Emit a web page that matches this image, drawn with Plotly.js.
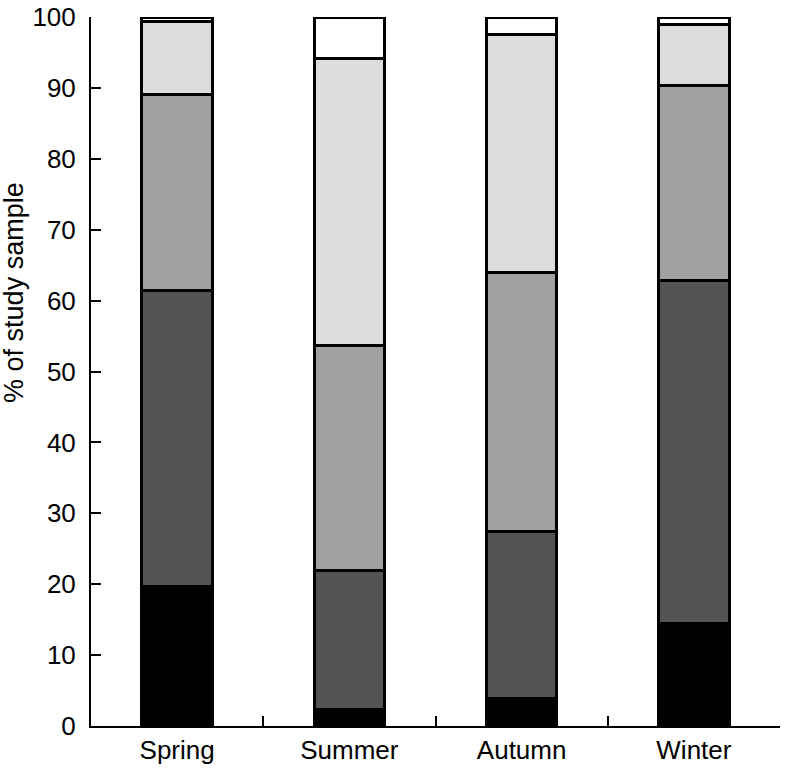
<!DOCTYPE html>
<html>
<head>
<meta charset="utf-8">
<script src="https://cdn.plot.ly/plotly-3.0.1.min.js"></script>
<style>
  html, body { margin: 0; padding: 0; background: #fff; }
  #chart { width: 787px; height: 771px; }
</style>
</head>
<body>
<div id="chart"></div>
<script>
var seasons = ['Spring', 'Summer', 'Autumn', 'Winter'];

// stacked segments, bottom to top (% of study sample)
var seg1 = [19.7, 2.3, 3.9, 14.5];
var seg2 = [41.7, 19.6, 23.5, 48.3];
var seg3 = [27.7, 31.7, 36.6, 27.6];
var seg4 = [10.2, 40.6, 33.5, 8.5];
var seg5 = [0.7, 5.8, 2.5, 1.1];

var fills = ['#000000', '#545454', '#a1a1a1', '#dcdcdc', '#ffffff'];
var segs = [seg1, seg2, seg3, seg4, seg5];

var traces = [];
for (var i = 0; i < segs.length; i++) {
    traces.push({
        type: 'bar',
        x: seasons,
        y: segs[i],
        width: 0.41,
        marker: {
            color: fills[i],
            line: {color: '#000000', width: 3}
        },
        hoverinfo: 'skip'
    });
}

var layout = {
    width: 787,
    height: 771,
    barmode: 'stack',
    showlegend: false,
    paper_bgcolor: '#ffffff',
    plot_bgcolor: '#ffffff',
    margin: {l: 91, r: 7, t: 17, b: 45},
    font: {family: 'Liberation Sans, Arial, sans-serif', size: 26, color: '#000'},
    xaxis: {
        type: 'category',
        tickson: 'boundaries',
        ticks: 'inside',
        ticklen: 10,
        tickwidth: 2,
        tickcolor: '#000',
        showline: true,
        linewidth: 2,
        linecolor: '#000',
        showgrid: false,
        zeroline: false,
        tickfont: {size: 26}
    },
    yaxis: {
        range: [0, 100],
        tickvals: [0, 10, 20, 30, 40, 50, 60, 70, 80, 90, 100],
        ticks: 'inside',
        ticklen: 10,
        tickwidth: 2,
        tickcolor: '#000',
        ticklabelstandoff: 8,
        showline: true,
        linewidth: 2,
        linecolor: '#000',
        showgrid: false,
        zeroline: false,
        tickfont: {size: 26}
    },
    annotations: [{
        text: '% of study sample',
        xref: 'paper', yref: 'paper',
        x: -0.112, y: 0.612,
        xanchor: 'center', yanchor: 'middle',
        textangle: -90,
        showarrow: false,
        font: {size: 27}
    }]
};

Plotly.newPlot('chart', traces, layout, {displayModeBar: false, staticPlot: true});
</script>
</body>
</html>
